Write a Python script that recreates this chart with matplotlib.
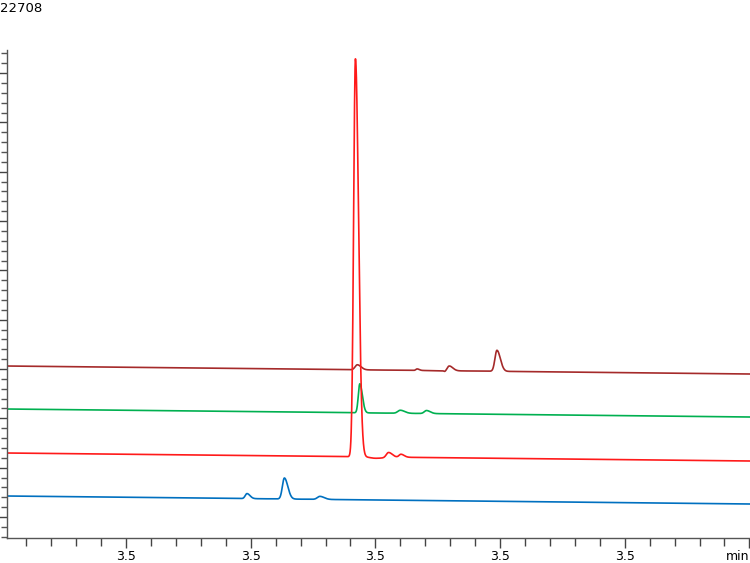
import numpy as np
import matplotlib
matplotlib.use("Agg")
import matplotlib.pyplot as plt
from matplotlib.ticker import MultipleLocator

# ---- data ----
y_max_label = 22708
tick_times = [3.46, 3.48, 3.50, 3.52, 3.54, 3.56]
tick_labels = ["3.5", "3.5", "3.5", "3.5", "3.5", "min"]
t_start, t_end = 3.4409, 3.5601

trace_names = ["dark_red", "green", "red", "blue"]
trace_colors = ["#a52a2a", "#00b050", "#ff1a1a", "#0070c0"]
# baseline intensity at start and end of run
baseline_start = [8003, 6002, 3955, 1954]
baseline_end = [7631, 5630, 3583, 1582]

# peaks: retention time (min), height (counts), sigma (min)
dark_red_rt = [3.4971, 3.5067, 3.5112, 3.5118, 3.5195]
dark_red_h = [233, 70, -70, 233, 977]
dark_red_sd = [0.00035, 0.00020, 0.00020, 0.00035, 0.00032]

green_rt = [3.4975, 3.5040, 3.5082]
green_h = [1350, 140, 140]
green_sd = [0.00024, 0.00040, 0.00035]

red_rt = [3.4968, 3.5000, 3.5021, 3.5041]
red_h = [18519, -60, 233, 140]
red_sd = [0.00029, 0.00080, 0.00035, 0.00030]

blue_rt = [3.4794, 3.4854, 3.4911]
blue_h = [233, 977, 140]
blue_sd = [0.00028, 0.00032, 0.00040]

peaks = [
    (dark_red_rt, dark_red_h, dark_red_sd),
    (green_rt, green_h, green_sd),
    (red_rt, red_h, red_sd),
    (blue_rt, blue_h, blue_sd),
]

# ---- figure ----
fig = plt.figure(figsize=(7.5, 5.63), dpi=100)
ax = fig.add_axes([7 / 750, 25 / 563, 743 / 750, 488 / 563])

t = np.linspace(t_start, t_end, 6000)
for (rts, hs, sds), b0, b1, col in zip(peaks, baseline_start, baseline_end, trace_colors):
    y = b0 + (b1 - b0) * (t - t_start) / (t_end - t_start)
    for rt, h, sd in zip(rts, hs, sds):
        sd_arr = np.where(t < rt, sd, sd * 1.7)  # tailing peak shape
        y = y + h * np.exp(-0.5 * ((t - rt) / sd_arr) ** 2)
    ax.plot(t, y, color=col, lw=1.2, solid_joinstyle="round")

ax.set_xlim(t_start, t_end)
ax.set_ylim(0, y_max_label)

ax.set_xticks(tick_times)
ax.set_xticklabels(tick_labels)
ax.get_xticklabels()[-1].set_ha("right")
ax.xaxis.set_minor_locator(MultipleLocator(0.004))

ax.yaxis.set_major_locator(MultipleLocator(2295, offset=977))
ax.yaxis.set_minor_locator(MultipleLocator(459, offset=59))
ax.set_yticklabels([])

for s in ["top", "right"]:
    ax.spines[s].set_visible(False)
for s in ["left", "bottom"]:
    ax.spines[s].set_color("#555555")
    ax.spines[s].set_linewidth(1.0)

ax.tick_params(axis="x", which="major", length=7, width=1, color="#444444",
               labelsize=9, pad=1.5)
ax.tick_params(axis="x", which="minor", length=6, width=1, color="#444444")
ax.tick_params(axis="y", which="major", length=7, width=1, color="#444444",
               labelleft=False)
ax.tick_params(axis="y", which="minor", length=4, width=1, color="#555555")

fig.text(0.0, 1 - 2 / 563, str(y_max_label), ha="left", va="top", fontsize=9.5)

fig.savefig("out.png", dpi=100)
